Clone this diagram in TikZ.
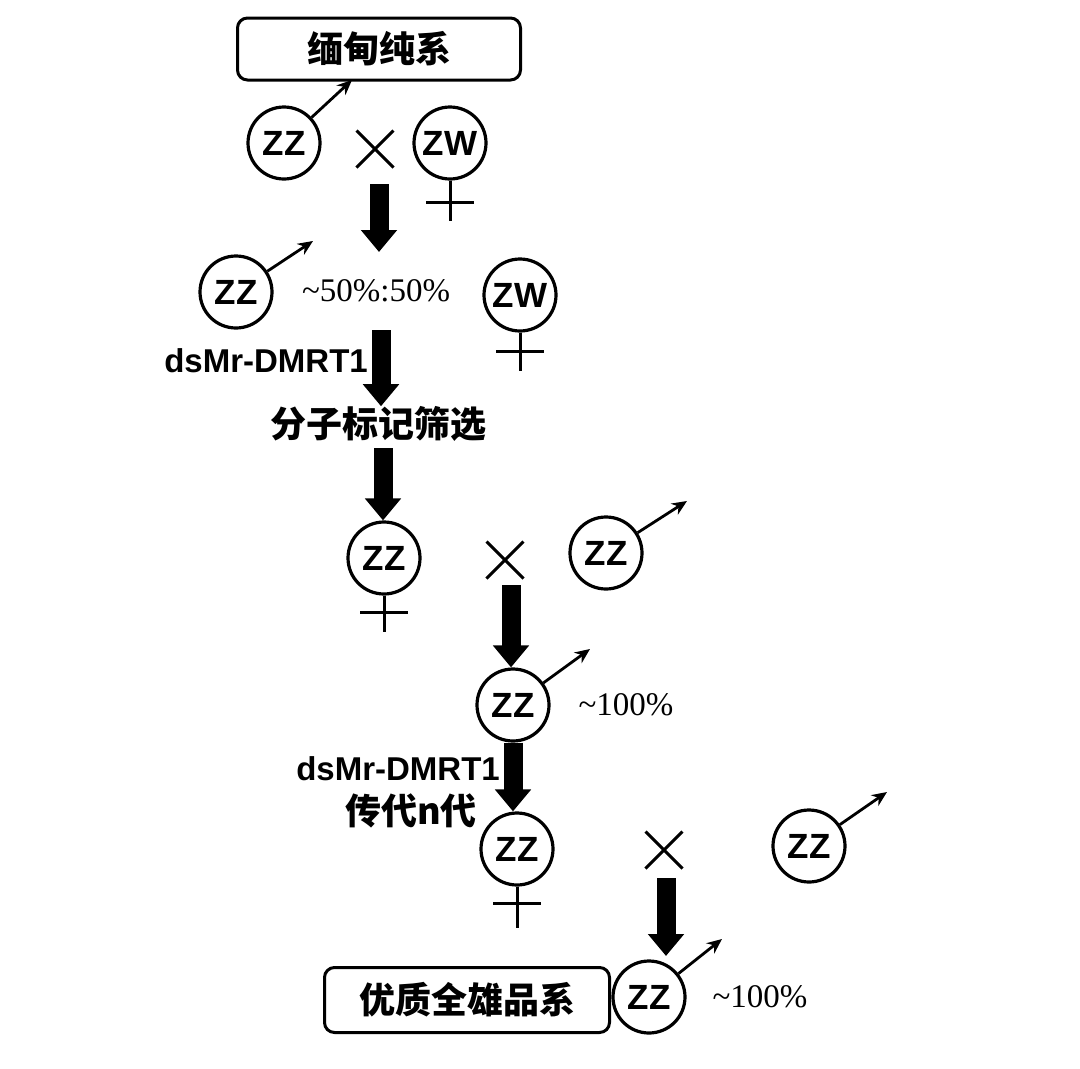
\documentclass[tikz,border=0pt]{standalone}
\usepackage{fontspec}
\setmainfont{Liberation Serif}
\setsansfont{Liberation Sans}
\newfontfamily\cjk{Noto Sans CJK SC}
\usetikzlibrary{arrows.meta,shapes.misc,calc}
\begin{document}
\begin{tikzpicture}[x=1pt,y=-1pt,
  sexcircle/.style={circle,draw,line width=3.2pt,minimum size=72pt,inner sep=0pt,
     font=\sffamily\bfseries\fontsize{35}{36}\selectfont},
  malearrow/.style={line width=2.8pt,-{Stealth[length=15pt,width=13pt]}},
  femline/.style={line width=3pt},
  crosssign/.style={draw,cross out,line width=3pt,minimum size=34pt,inner sep=0pt},
  bigarrow/.style={line width=19pt,-{Triangle[width=35pt,length=22pt]}},
  labelbox/.style={draw,line width=3pt,rounded corners=10pt,inner sep=0pt,
     font=\cjk\bfseries\fontsize{36}{40}\selectfont},
  cjktext/.style={font=\cjk\bfseries\fontsize{36}{40}\selectfont,inner sep=0pt},
  dstext/.style={font=\sffamily\bfseries\fontsize{33}{36}\selectfont,inner sep=0pt},
  pcttext/.style={font=\fontsize{33}{36}\selectfont,inner sep=0pt}
]
\useasboundingbox (0,0) rectangle (1080,1069);
\fill[white] (0,0) rectangle (1080,1069);

% generation 0
\node[labelbox,minimum width=283pt,minimum height=62pt] (box1) at (379,49) {缅甸纯系};
\node[sexcircle] (zz1) at (284,143) {ZZ};
\coordinate (m1) at (352,80);
\draw[malearrow] (zz1) -- (m1);
\node[crosssign] (x1) at (375,149) {};
\node[sexcircle] (zw1) at (450,143) {ZW};
\draw[femline] (zw1.south) -- ++(0,40);
\draw[femline] ($(zw1.south)+(-24,22)$) -- ++(48,0);

\coordinate (a1s) at (379,184);
\coordinate (a1e) at (379,252);
\draw[bigarrow] (a1s) -- (a1e);

% generation 1
\node[sexcircle] (zz2) at (236,292) {ZZ};
\coordinate (m2) at (313,241);
\draw[malearrow] (zz2) -- (m2);
\node[pcttext] (p1) at (376,291) {\textasciitilde50\%:50\%};
\node[sexcircle] (zw2) at (520,295) {ZW};
\draw[femline] (zw2.south) -- ++(0,38);
\draw[femline] ($(zw2.south)+(-24,19)$) -- ++(48,0);

\node[dstext,anchor=east] (ds1) at (368,361) {dsMr-DMRT1};
\coordinate (a2s) at (381,330);
\node[cjktext] (t1) at (378,424) {分子标记筛选};
\draw[bigarrow] (a2s) -- (a2s |- t1.north);
\coordinate (a3s) at (383,448);
\node[sexcircle] (zz3) at (384,558) {ZZ};
\draw[bigarrow] (a3s) -- (a3s |- zz3.north);
\draw[femline] (zz3.south) -- ++(0,36);
\draw[femline] ($(zz3.south)+(-24,17)$) -- ++(48,0);

\node[crosssign] (x2) at (505,560) {};
\node[sexcircle] (zz4) at (606,553) {ZZ};
\coordinate (m4) at (687,501);
\draw[malearrow] (zz4) -- (m4);

% generation 2
\coordinate (a4s) at (511,585);
\node[sexcircle] (zz5) at (513,705) {ZZ};
\draw[bigarrow] (a4s) -- (a4s |- zz5.north);
\coordinate (m5) at (590,649);
\draw[malearrow] (zz5) -- (m5);
\node[pcttext] (p2) at (626,705) {\textasciitilde100\%};

\node[dstext,anchor=east] (ds2) at (500,769) {dsMr-DMRT1};
\node[cjktext] (t2) at (411,811) {传代n代};
\node[sexcircle] (zz6) at (517,849) {ZZ};
\draw[bigarrow] (zz5.south) -- (zz5.south |- zz6.north);
\draw[femline] (zz6.south) -- ++(0,41);
\draw[femline] ($(zz6.south)+(-24,17)$) -- ++(48,0);

\node[crosssign] (x3) at (664,850) {};
\node[sexcircle] (zz7) at (809,846) {ZZ};
\coordinate (m7) at (887,792);
\draw[malearrow] (zz7) -- (m7);

% final
\coordinate (a6s) at (666,878);
\node[sexcircle] (zz8) at (649,997) {ZZ};
\coordinate (a6e) at (666,956);
\draw[bigarrow] (a6s) -- (a6e);
\coordinate (m8) at (722,939);
\draw[malearrow] (zz8) -- (m8);
\node[pcttext] (p3) at (760,997) {\textasciitilde100\%};
\node[labelbox,minimum width=285pt,minimum height=65pt] (box2) at (467,1000) {优质全雄品系};
\end{tikzpicture}
\end{document}
